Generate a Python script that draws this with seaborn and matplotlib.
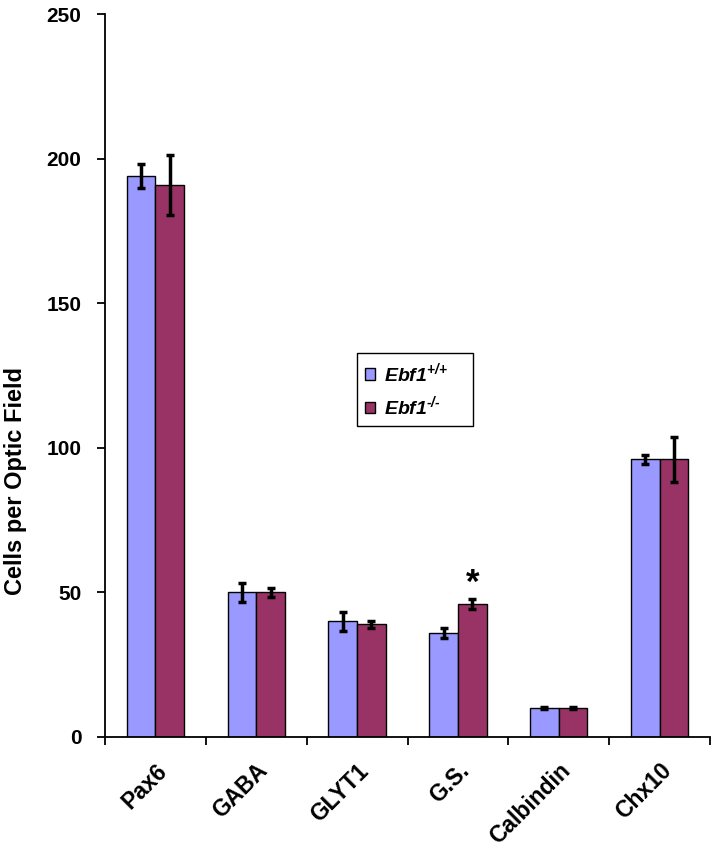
import matplotlib
matplotlib.use("Agg")
import matplotlib.pyplot as plt
import seaborn as sns
import pandas as pd
import numpy as np

categories = ['Pax6', 'GABA', 'GLYT1', 'G.S.', 'Calbindin', 'Chx10']
wt_values = [194, 50, 40, 36, 10, 96]
ko_values = [191, 50, 39, 46, 10, 96]
wt_err = [4.2, 3.2, 3.2, 1.8, 0.4, 1.5]
ko_err = [10.4, 1.6, 1.2, 1.8, 0.4, 7.8]
genotypes = [r'$\mathbfit{Ebf1}^{\text{+/+}}$', r'$\mathbfit{Ebf1}^{\text{-/-}}$']
y_ticks = [0, 50, 100, 150, 200, 250]

df = pd.DataFrame({
    'marker': categories * 2,
    'count': wt_values + ko_values,
    'genotype': [genotypes[0]] * len(categories) + [genotypes[1]] * len(categories),
})

sns.set_style('white')
plt.rcParams['font.family'] = ['Liberation Sans', 'DejaVu Sans']
plt.rcParams['font.weight'] = 'bold'
plt.rcParams['text.color'] = 'black'
plt.rcParams['axes.labelcolor'] = 'black'
plt.rcParams['xtick.color'] = 'black'
plt.rcParams['ytick.color'] = 'black'
plt.rcParams['mathtext.fontset'] = 'custom'
plt.rcParams['mathtext.bfit'] = 'Liberation Sans:bold:italic'
plt.rcParams['mathtext.it'] = 'Liberation Sans:bold:italic'
plt.rcParams['mathtext.bf'] = 'Liberation Sans:bold:italic'
plt.rcParams['mathtext.rm'] = 'Liberation Sans:bold:italic'

fig = plt.figure(figsize=(7.14, 8.51), dpi=100)
ax = fig.add_axes([105 / 714, 1 - 737 / 851, 605 / 714, 723 / 851])

sns.barplot(data=df, x='marker', y='count', hue='genotype', order=categories,
            hue_order=genotypes, palette=['#9999FF', '#993366'], saturation=1,
            width=0.57, gap=0, edgecolor='black', linewidth=1.0, errorbar=None, ax=ax)

for cont, errs in zip(ax.containers, [wt_err, ko_err]):
    for bar, e in zip(cont, errs):
        ax.errorbar(bar.get_x() + bar.get_width() / 2, bar.get_height(), yerr=e,
                    fmt='none', ecolor='black', elinewidth=2.5, capsize=3.2,
                    capthick=2.5, zorder=5)

# significance marker above G.S. knockout bar
gs_bar = ax.containers[1][categories.index('G.S.')]
ax.text(gs_bar.get_x() + gs_bar.get_width() / 2, 53, '*', ha='center', va='center',
        fontsize=25, fontweight='bold')

ax.set_xlim(-0.5, len(categories) - 0.5)
ax.set_ylim(0, 250)
ax.set_yticks(y_ticks)
ax.set_yticklabels([str(t) for t in y_ticks], fontsize=15, fontweight='bold')
ax.set_xticks(range(len(categories)))
ax.set_xticklabels(categories, rotation=45, ha='right', rotation_mode='anchor',
                   fontsize=16.5, fontweight='bold')
ax.set_xticks(np.arange(-0.5, len(categories), 1.0), minor=True)
ax.tick_params(axis='x', which='major', length=0, pad=16)
ax.tick_params(axis='x', which='minor', length=6, width=1.3, direction='out', color='black', bottom=True)
ax.tick_params(axis='y', length=6, width=1.3, direction='out', color='black', left=True, pad=11)

ax.set_xlabel('')
ax.set_ylabel('Cells per Optic Field', fontsize=17, fontweight='bold')
ax.yaxis.set_label_coords(-(105 - 27) / 605, (737 - 481) / 723)

for s in ['top', 'right']:
    ax.spines[s].set_visible(False)
for s in ['left', 'bottom']:
    ax.spines[s].set_color('black')
    ax.spines[s].set_linewidth(1.3)

handles, labels = ax.get_legend_handles_labels()
leg = ax.legend(handles, [l + '    ' for l in labels], loc='upper left',
                bbox_to_anchor=((357 - 105) / 605, (737 - 353) / 723),
                frameon=True, fancybox=False, edgecolor='black', framealpha=1,
                fontsize=14, handlelength=0.55, handleheight=0.55, handletextpad=0.45,
                labelspacing=0.5, borderpad=0.4, borderaxespad=0, title=None)
leg.get_frame().set_linewidth(1.0)

fig.savefig('out.png', dpi=100)
